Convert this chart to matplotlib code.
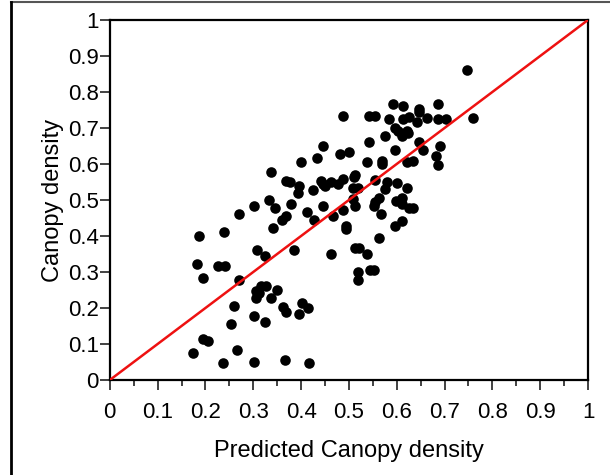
import numpy as np
import matplotlib
matplotlib.use('Agg')
import matplotlib.pyplot as plt
from matplotlib.lines import Line2D
from matplotlib.ticker import MultipleLocator

plt.rcParams['font.family'] = ['Liberation Sans', 'DejaVu Sans']

# predicted vs observed canopy density
pred = [0.746, 0.759, 0.592, 0.614, 0.646, 0.647, 0.687, 0.488, 0.541, 0.555,
        0.584, 0.614, 0.626, 0.642, 0.663, 0.687, 0.702, 0.596, 0.602, 0.610,
        0.622, 0.575, 0.542, 0.596, 0.646, 0.654, 0.691, 0.683, 0.687, 0.622,
        0.634, 0.569, 0.569, 0.537, 0.446, 0.433, 0.482, 0.500, 0.399, 0.337,
        0.368, 0.376, 0.396, 0.393, 0.425, 0.441, 0.449, 0.462, 0.478, 0.488,
        0.512, 0.510, 0.508, 0.520, 0.555, 0.580, 0.575, 0.600, 0.622, 0.563,
        0.555, 0.553, 0.598, 0.610, 0.610, 0.626, 0.634, 0.512, 0.508, 0.446,
        0.378, 0.333, 0.346, 0.301, 0.271, 0.368, 0.360, 0.413, 0.428, 0.467,
        0.488, 0.494, 0.494, 0.341, 0.567, 0.596, 0.610, 0.563, 0.187, 0.238,
        0.183, 0.195, 0.226, 0.241, 0.271, 0.307, 0.325, 0.385, 0.463, 0.512,
        0.522, 0.537, 0.545, 0.553, 0.520, 0.520, 0.305, 0.317, 0.327, 0.313,
        0.305, 0.350, 0.337, 0.260, 0.362, 0.368, 0.396, 0.402, 0.415, 0.301,
        0.254, 0.325, 0.195, 0.205, 0.175, 0.267, 0.237, 0.301, 0.367, 0.416,
        0.624, 0.445]
obs = [0.861, 0.728, 0.767, 0.761, 0.753, 0.745, 0.767, 0.733, 0.733, 0.733,
       0.724, 0.724, 0.731, 0.716, 0.728, 0.724, 0.724, 0.700, 0.691, 0.679,
       0.691, 0.679, 0.660, 0.638, 0.660, 0.640, 0.649, 0.623, 0.596, 0.605,
       0.609, 0.609, 0.600, 0.605, 0.649, 0.616, 0.628, 0.633, 0.605, 0.578,
       0.554, 0.549, 0.540, 0.519, 0.527, 0.554, 0.538, 0.549, 0.543, 0.558,
       0.570, 0.563, 0.533, 0.533, 0.555, 0.549, 0.531, 0.547, 0.533, 0.506,
       0.494, 0.484, 0.496, 0.506, 0.490, 0.478, 0.478, 0.484, 0.503, 0.484,
       0.490, 0.501, 0.478, 0.482, 0.461, 0.455, 0.445, 0.467, 0.445, 0.455,
       0.473, 0.427, 0.419, 0.422, 0.461, 0.429, 0.441, 0.394, 0.399, 0.411,
       0.323, 0.283, 0.317, 0.317, 0.278, 0.362, 0.345, 0.362, 0.350, 0.366,
       0.366, 0.350, 0.306, 0.306, 0.301, 0.278, 0.246, 0.262, 0.262, 0.241,
       0.227, 0.250, 0.227, 0.206, 0.204, 0.190, 0.184, 0.213, 0.199, 0.178,
       0.156, 0.162, 0.113, 0.107, 0.074, 0.083, 0.046, 0.051, 0.056, 0.046,
       0.686, 0.545]

fig = plt.figure(figsize=(6.1, 4.75), dpi=100)
ax = fig.add_axes([0.180, 0.200, 0.784, 0.758])

# 1:1 line
ax.plot([0, 1], [0, 1], color='#ee1111', lw=1.8, zorder=3)
ax.scatter(pred, obs, s=58, color='black', zorder=2, linewidths=0)

ax.set_xlim(0, 1)
ax.set_ylim(0, 1)
ax.xaxis.set_major_locator(MultipleLocator(0.1))
ax.xaxis.set_minor_locator(MultipleLocator(0.05))
ax.yaxis.set_major_locator(MultipleLocator(0.1))
fmt = lambda v, p: '0' if v == 0 else ('1' if v == 1 else ('%.1f' % v))
ax.xaxis.set_major_formatter(fmt)
ax.yaxis.set_major_formatter(fmt)
ax.tick_params(axis='both', which='major', direction='out', length=7, width=1.3,
               labelsize=16, color='#333333')
ax.tick_params(axis='x', which='minor', direction='out', length=4, width=1.3, color='#333333')
ax.tick_params(axis='x', pad=9)
ax.tick_params(axis='y', pad=1)
for s in ax.spines.values():
    s.set_linewidth(1.6)

ax.set_xlabel('Predicted Canopy density', fontsize=17, labelpad=12)
ax.set_ylabel('Canopy density', fontsize=17, labelpad=3)

# outer frame (top and left edges)
fig.add_artist(Line2D([11/610, 1], [1 - 2/475, 1 - 2/475], transform=fig.transFigure,
                      color='#555555', lw=1.5))
fig.add_artist(Line2D([11/610, 11/610], [0, 1 - 2/475], transform=fig.transFigure,
                      color='black', lw=2))

fig.savefig('out.png', dpi=100)
